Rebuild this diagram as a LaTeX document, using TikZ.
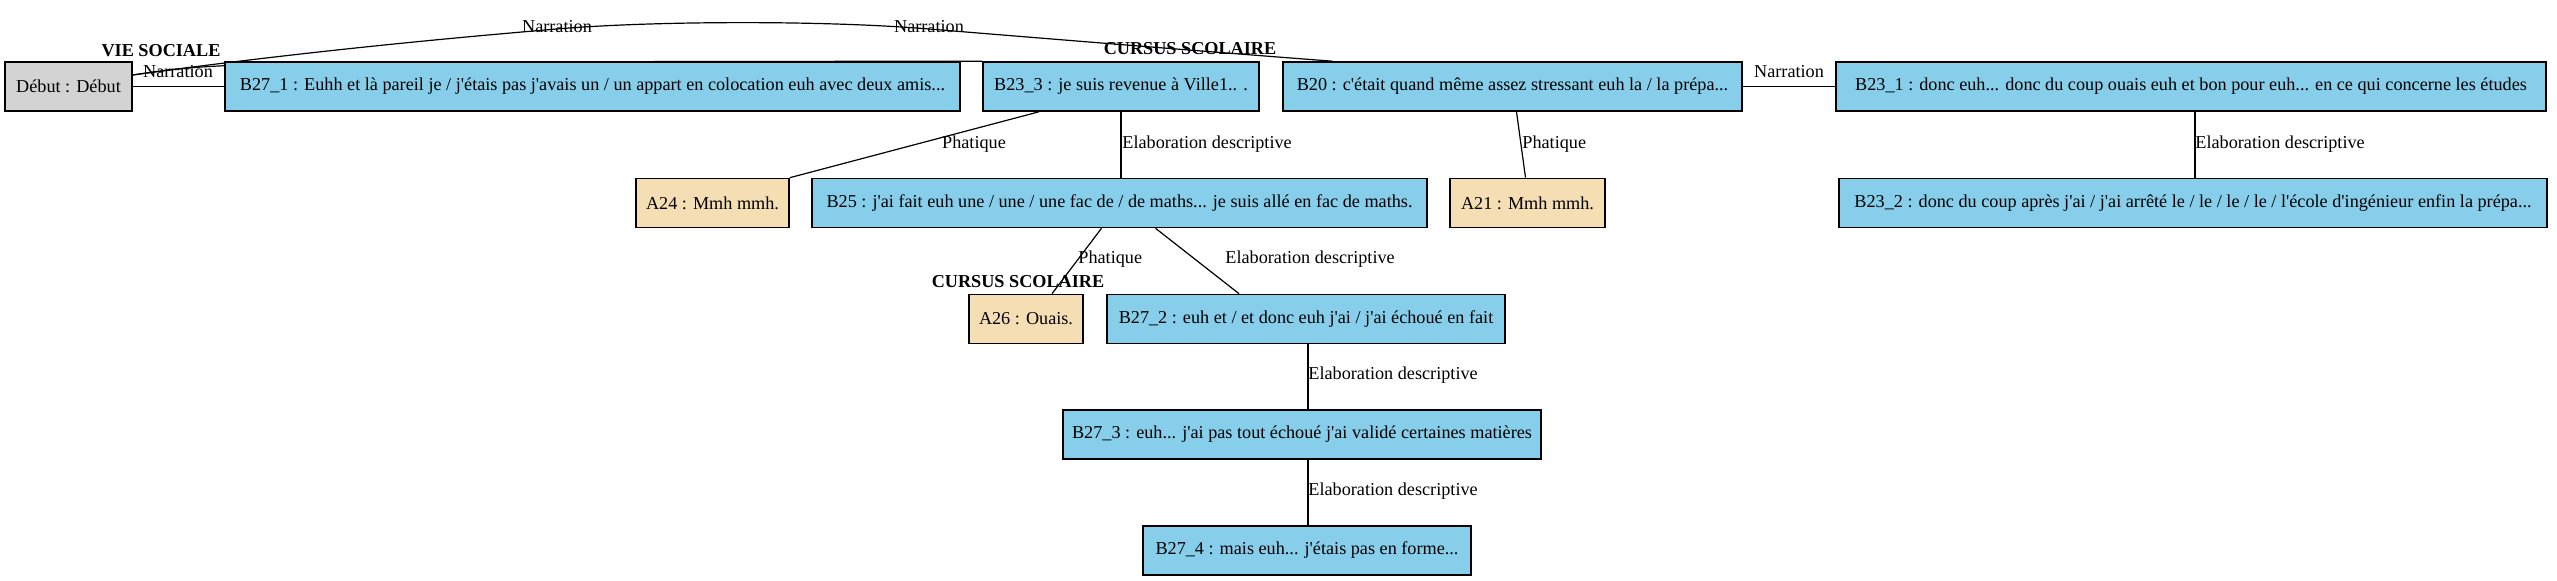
\documentclass[tikz,border=0pt]{standalone}
\usepackage{fontspec}
\setmainfont{Liberation Serif}[Ligatures=TeXOff]
\usetikzlibrary{backgrounds}
\definecolor{sky}{HTML}{87CEEB}
\definecolor{wheatc}{HTML}{F5DEB3}
\definecolor{greyc}{HTML}{D3D3D3}
\tikzset{
  box/.style={draw=black, line width=0.8pt, rectangle, minimum height=24.5pt, inner sep=0pt, font=\fontsize{9.1}{10}\selectfont},
  bnode/.style={box, fill=sky},
  anode/.style={box, fill=wheatc},
  dnode/.style={box, fill=greyc},
  elab/.style={font=\fontsize{9.1}{10}\selectfont, inner sep=0pt},
  grp/.style={font=\fontsize{9.1}{10}\selectfont\bfseries, inner sep=0pt},
  link/.style={draw=black, line width=0.6pt},
}
\begin{document}
\begin{tikzpicture}[x=0.5pt,y=-0.5pt]
\useasboundingbox (0,0) rectangle (2557,581);
% nodes
\node[dnode, minimum width=63.5pt] (debut) at (68.5,86.5) {Début : Début};
\node[bnode, minimum width=367.5pt] (b27_1) at (592.5,86.5) {B27\_1 : Euhh et là pareil je / j'étais pas j'avais un / un appart en colocation euh avec deux amis...};
\node[bnode, minimum width=138pt] (b23_3) at (1121,86.5) {B23\_3 : je suis revenue à Ville1.. .};
\node[bnode, minimum width=229.5pt] (b20) at (1512.5,86.5) {B20 : c'était quand même assez stressant euh la / la prépa...};
\node[bnode, minimum width=355pt] (b23_1) at (2191,86.5) {B23\_1 : donc euh... donc du coup ouais euh et bon pour euh... en ce qui concerne les études};
\node[anode, minimum width=76.5pt] (a24) at (712.5,203) {A24 : Mmh mmh.};
\node[bnode, minimum width=307.5pt] (b25) at (1119.5,203) {B25 : j'ai fait euh une / une / une fac de / de maths... je suis allé en fac de maths.};
\node[anode, minimum width=77.5pt] (a21) at (1527.5,203) {A21 : Mmh mmh.};
\node[bnode, minimum width=354pt] (b23_2) at (2193,203) {B23\_2 : donc du coup après j'ai / j'ai arrêté le / le / le / le / l'école d'ingénieur enfin la prépa...};
\node[anode, minimum width=57pt] (a26) at (1026,319) {A26 : Ouais.};
\node[bnode, minimum width=199pt] (b27_2) at (1306,319) {B27\_2 : euh et / et donc euh j'ai / j'ai échoué en fait};
\node[bnode, minimum width=239pt] (b27_3) at (1302,434.5) {B27\_3 : euh... j'ai pas tout échoué j'ai validé certaines matières};
\node[bnode, minimum width=164pt] (b27_4) at (1307,550.5) {B27\_4 : mais euh... j'étais pas en forme...};
% edges
\begin{scope}[on background layer]
\draw[link] ([yshift=5.75pt]debut.east) .. controls (220,62) .. (b23_3.north west);
\draw[link] ([yshift=5.75pt]debut.east) .. controls (300,52) and (450,38) .. (557,29)
  .. controls (650,21) and (820,20) .. (929,29)
  .. controls (1100,43) and (1250,55) .. ([xshift=-90pt]b20.north);
\end{scope}
\draw[link] (debut.east) -- (b27_1.west);
\draw[link] (b20.east) -- (b23_1.west);
\draw[link] ([xshift=-41pt]b23_3.south) -- (a24.north east);
\draw[link] (b23_3.south) -- (b23_3.south |- b25.north);
\draw[link] ([xshift=2pt]b20.south) -- ([xshift=-1pt]a21.north);
\draw[link] ([xshift=2pt]b23_1.south) -- ([xshift=2pt]b23_1.south |- b23_2.north);
\draw[link] ([xshift=-9pt]b25.south) -- ([xshift=13pt]a26.north);
\draw[link] ([xshift=18pt]b25.south) -- ([xshift=-33.5pt]b27_2.north);
\draw[link] ([xshift=1pt]b27_2.south) -- ([xshift=1pt]b27_2.south |- b27_3.north);
\draw[link] ([xshift=1pt]b27_2.south |- b27_3.south) -- ([xshift=1pt]b27_2.south |- b27_4.north);
% labels
\node[grp] (g1) at (161,51) {VIE SOCIALE};
\node[grp] (g2) at (1190,49) {CURSUS SCOLAIRE};
\node[grp] (g3) at (1018,282) {CURSUS SCOLAIRE};
\node[elab] (l1) at (178,72) {Narration};
\node[elab] (l2) at (557,27) {Narration};
\node[elab] (l3) at (929,27) {Narration};
\node[elab] (l4) at (1789,72) {Narration};
\node[elab] (l5) at (974,144) {Phatique};
\node[elab, anchor=west] (l6) at (1122,144) {Elaboration descriptive};
\node[elab, anchor=west] (l7) at (1522,144) {Phatique};
\node[elab, anchor=west] (l8) at (2195,144) {Elaboration descriptive};
\node[elab, anchor=west] (l9) at (1078,259) {Phatique};
\node[elab, anchor=west] (l10) at (1225,259) {Elaboration descriptive};
\node[elab, anchor=west] (l11) at (1308,375) {Elaboration descriptive};
\node[elab, anchor=west] (l12) at (1308,491) {Elaboration descriptive};
\end{tikzpicture}
\end{document}
